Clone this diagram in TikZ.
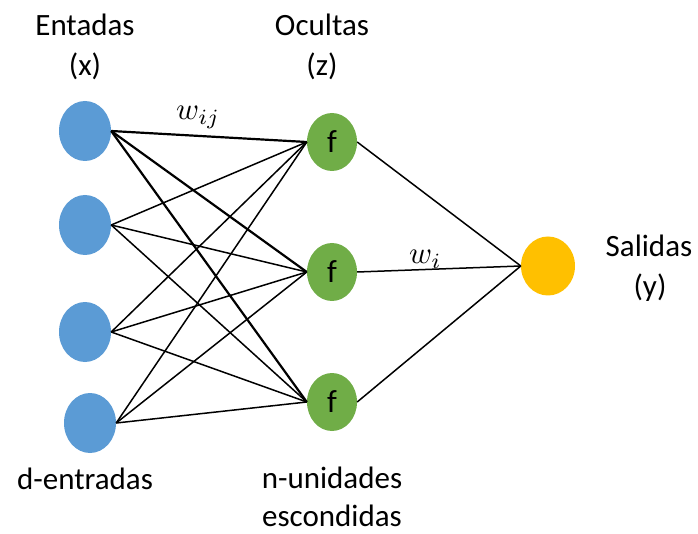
\documentclass[tikz,border=0pt]{standalone}
\usepackage{fontspec}
\setmainfont{Carlito}
\usetikzlibrary{shapes.geometric}
\definecolor{inblue}{RGB}{91,155,213}
\definecolor{hidgreen}{RGB}{112,173,71}
\definecolor{outyellow}{RGB}{255,192,0}
\begin{document}
\begin{tikzpicture}[x=1pt,y=-1pt,
  inode/.style={ellipse, fill=inblue, minimum width=52pt, minimum height=60pt, inner sep=0pt},
  hnode/.style={ellipse, fill=hidgreen, minimum width=50pt, minimum height=58pt, inner sep=0pt, font=\fontsize{32}{38}\selectfont},
  onode/.style={ellipse, fill=outyellow, minimum width=54pt, minimum height=59pt, inner sep=0pt},
  lbl/.style={font=\fontsize{31}{37}\selectfont, inner sep=0pt, anchor=base},
  wlbl/.style={inner sep=0pt, anchor=base west},
  conn/.style={line width=1.5pt, black},
  thickconn/.style={line width=2.2pt, black}]
\useasboundingbox (0,0) rectangle (698,534);
% nodes
\node[inode] (x1) at (85,131) {};
\node[inode] (x2) at (85,225) {};
\node[inode] (x3) at (85,332) {};
\node[inode] (x4) at (90,423) {};
\node[hnode] (h1) at (332,142) {f};
\node[hnode] (h2) at (332,272) {f};
\node[hnode] (h3) at (332,402) {f};
\node[onode] (y) at (548,266) {};
% connectors
\foreach \j in {1,2,3} {
  \draw[thickconn] (x1.east) -- (h\j.west);
  \draw[conn] (x2.east) -- (h\j.west);
  \draw[conn] (x3.east) -- (h\j.west);
  \draw[conn] (x4.east) -- (h\j.west);
  \draw[conn] (h\j.east) -- (y.west);
}
% labels
\node[lbl] (l1) at (85,36) {Entadas};
\node[lbl] (l2) at (85,76) {(x)};
\node[lbl] (l3) at (322,36) {Ocultas};
\node[lbl] (l4) at (322,76) {(z)};
\node[lbl] (l5) at (649,257) {Salidas};
\node[lbl] (l6) at (650,297) {(y)};
\node[lbl] (l7) at (85,489) {d-entradas};
\node[lbl] (l8) at (332,488) {n-unidades};
\node[lbl] (l9) at (332,526) {escondidas};
\node[wlbl] (w1) at (176,120) {\scalebox{3.1}{$w_{ij}$}};
\node[wlbl] (w2) at (409,264) {\scalebox{3.1}{$w_{i}$}};
\end{tikzpicture}
\end{document}
